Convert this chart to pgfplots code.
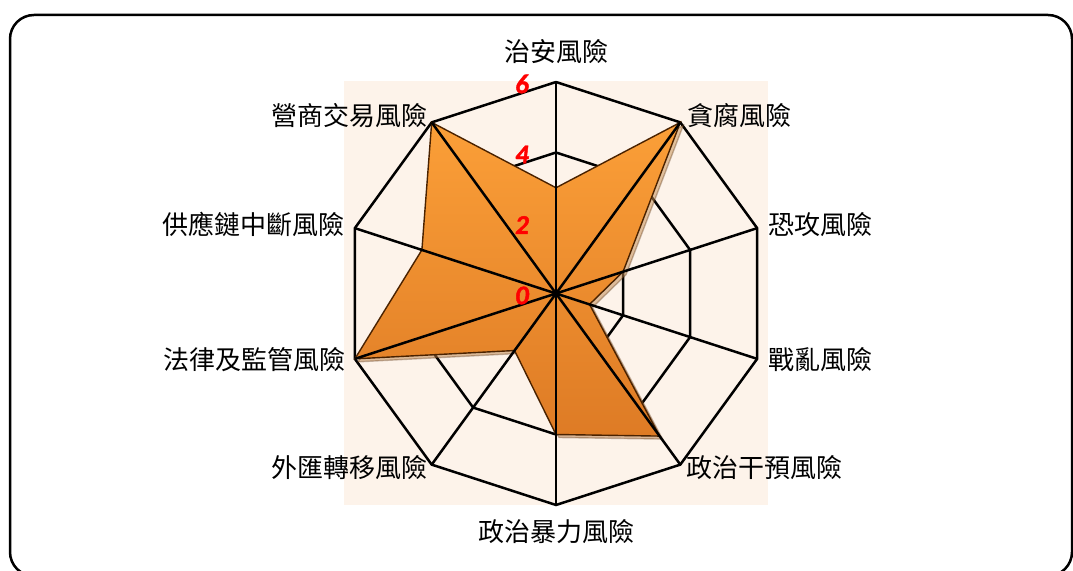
\documentclass[border=0pt]{standalone}
\usepackage{pgfplots}
\pgfplotsset{compat=1.18}
\usepgfplotslibrary{polar}
\usepackage{pgfplotstable}
\usetikzlibrary{shadows}
\usepackage{fontspec}
\newfontfamily\cjk{Noto Sans CJK TC}
\newfontfamily\carlitobi{Carlito}[UprightFont={* Bold Italic}, UprightFeatures={FakeBold=1.5}]
\definecolor{peach}{HTML}{FDF3EA}
\definecolor{otop}{HTML}{FB9F38}
\definecolor{obot}{HTML}{DE7B25}
\definecolor{oedge}{HTML}{4A2200}
\tikzset{
  cjklab/.style={font=\cjk\fontsize{26}{30}\selectfont, inner sep=0pt},
  ticklab/.style={font=\carlitobi\fontsize{27}{30}\selectfont, text=red, inner sep=0pt},
}

\pgfplotstableread{
ang val
90 3
54 6
18 2
-18 1
-54 5
-90 4
-126 2
-162 6
-198 4
-234 6
-270 3
}\riskdata

\begin{document}
\begin{tikzpicture}
\useasboundingbox (0pt,0pt) rectangle (1073pt,570pt);
\draw[line width=2.5pt, rounded corners=24pt] (10pt,-6pt) rectangle (1072pt,555pt);
\fill[peach] (344pt,65pt) rectangle (768pt,489pt);
\begin{polaraxis}[
  at={(556pt,276.5pt)}, anchor=center,
  scale only axis, width=423pt, height=423pt,
  ymin=0, ymax=6,
  hide axis, clip=false,
  xtick=\empty, ytick=\empty,
]
% rings
\addplot[black, line width=2.5pt, mark=none] coordinates {(90,2) (54,2) (18,2) (-18,2) (-54,2) (-90,2) (-126,2) (-162,2) (-198,2) (-234,2) (-270,2)};
\addplot[black, line width=2.5pt, mark=none] coordinates {(90,4) (54,4) (18,4) (-18,4) (-54,4) (-90,4) (-126,4) (-162,4) (-198,4) (-234,4) (-270,4)};
\addplot[black, line width=2.5pt, mark=none] coordinates {(90,6) (54,6) (18,6) (-18,6) (-54,6) (-90,6) (-126,6) (-162,6) (-198,6) (-234,6) (-270,6)};
% data
\addplot[mark=none, draw=oedge, line width=1.4pt, top color=otop, bottom color=obot,
  drop shadow={shadow xshift=3pt, shadow yshift=-3pt, opacity=0.3}] table[x=ang, y=val] {\riskdata};
% spokes
\addplot[black, line width=2.5pt, mark=none] coordinates {(90,6) (-90,6)};
\addplot[black, line width=2.5pt, mark=none] coordinates {(54,6) (-126,6)};
\addplot[black, line width=2.5pt, mark=none] coordinates {(18,6) (-162,6)};
\addplot[black, line width=2.5pt, mark=none] coordinates {(-18,6) (-198,6)};
\addplot[black, line width=2.5pt, mark=none] coordinates {(-54,6) (-234,6)};
% tick labels
\node[ticklab, xshift=-34pt, yshift=-2pt] at (axis cs:90,6) {6};
\node[ticklab, xshift=-34pt, yshift=-2pt] at (axis cs:90,4) {4};
\node[ticklab, xshift=-34pt, yshift=-2pt] at (axis cs:90,2) {2};
\node[ticklab, xshift=-34pt, yshift=-2pt] at (axis cs:90,0) {0};
% category labels
\node[cjklab, anchor=center, yshift=30pt] at (axis cs:90,6) {治安風險};
\node[cjklab, anchor=west, xshift=7pt, yshift=7pt] at (axis cs:54,6) {貪腐風險};
\node[cjklab, anchor=west, xshift=11pt, yshift=4pt] at (axis cs:18,6) {恐攻風險};
\node[cjklab, anchor=west, xshift=11pt, yshift=-1pt] at (axis cs:-18,6) {戰亂風險};
\node[cjklab, anchor=west, xshift=6pt, yshift=-3pt] at (axis cs:-54,6) {政治干預風險};
\node[cjklab, anchor=center, yshift=-27pt] at (axis cs:-90,6) {政治暴力風險};
\node[cjklab, anchor=east, xshift=-4pt, yshift=-3pt] at (axis cs:-126,6) {外匯轉移風險};
\node[cjklab, anchor=east, xshift=-9pt, yshift=-1pt] at (axis cs:-162,6) {法律及監管風險};
\node[cjklab, anchor=east, xshift=-10pt, yshift=4pt] at (axis cs:-198,6) {供應鏈中斷風險};
\node[cjklab, anchor=east, xshift=-4pt, yshift=7pt] at (axis cs:-234,6) {營商交易風險};
\end{polaraxis}
\end{tikzpicture}
\end{document}
